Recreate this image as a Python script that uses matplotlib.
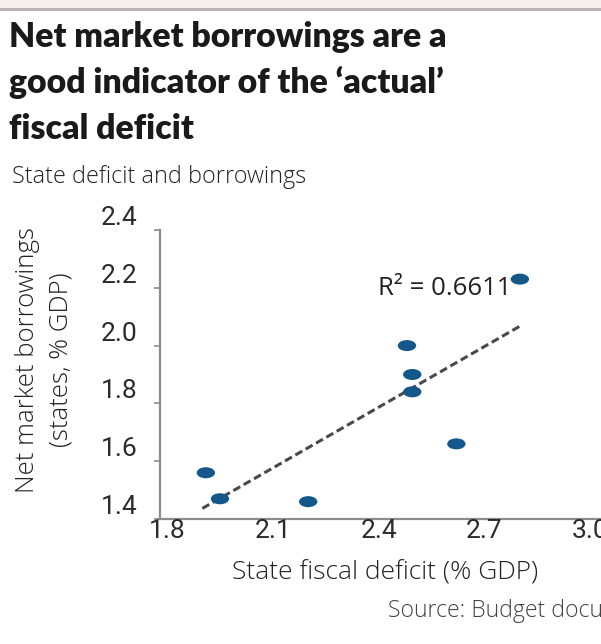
import numpy as np
import matplotlib
matplotlib.use("Agg")
import matplotlib.pyplot as plt
from matplotlib.path import Path
from matplotlib.patches import Rectangle
from matplotlib import transforms

# data
deficit = [1.93, 1.97, 2.22, 2.50, 2.515, 2.515, 2.64, 2.82]
borrowings = [1.56, 1.47, 1.46, 2.00, 1.90, 1.84, 1.66, 2.23]
x_ticks = [1.8, 2.1, 2.4, 2.7, 3.0]
y_ticks = [1.4, 1.6, 1.8, 2.0, 2.2, 2.4]
title_lines = ["Net market borrowings are a",
               "good indicator of the \u2018actual\u2019",
               "fiscal deficit"]

W, H = 601, 644
fig = plt.figure(figsize=(W / 100, H / 100), dpi=100)
fig.patch.set_facecolor("white")


def fx(px):
    return px / W


def fy(py):
    return 1 - py / H


# pink strip and rule at the top
fig.patches.append(Rectangle((0, fy(8)), 1, 8 / H, transform=fig.transFigure,
                             facecolor="#f7eef0", edgecolor="none"))
fig.patches.append(Rectangle((0, fy(11)), 1, 3 / H, transform=fig.transFigure,
                             facecolor="#b9b1b3", edgecolor="none"))

title_font = ["Lato", "DejaVu Sans"]
body_font = ["Open Sans", "DejaVu Sans"]
tick_font = ["Roboto", "DejaVu Sans"]

for i, line in enumerate(title_lines):
    fig.text(fx(9), fy(47 + 46 * i), line, family=title_font, weight="heavy",
             fontsize=24.3, color="#1a1a1a", va="baseline", ha="left")

fig.text(fx(12), fy(183), "State deficit and borrowings", family=body_font,
         weight="light", fontsize=16.8, color="#222222", va="baseline", ha="left")

x0, x1 = 1.8, 3.15
px_per_unit = 352.8
ax = fig.add_axes([fx(160), fy(519), (x1 - x0) * px_per_unit / W, 289 / H])
ax.set_xlim(x0, x1)
ax.set_ylim(1.4, 2.4)
for s in ["top", "right"]:
    ax.spines[s].set_visible(False)
for s in ["left", "bottom"]:
    ax.spines[s].set_color("#8c8c8c")
    ax.spines[s].set_linewidth(1.6)
ax.set_xticks(x_ticks)
ax.set_yticks(y_ticks)
ax.tick_params(axis="y", length=4, width=1.2, color="#8c8c8c", labelleft=False)
ax.tick_params(axis="x", length=0, labelbottom=False)

# tick labels, drawn slightly off their ticks as in the reference
ytrans = transforms.offset_copy(ax.get_yaxis_transform(), fig=fig, x=-22, y=12, units="dots")
for v in y_ticks:
    ax.text(0, v, f"{v:.1f}", transform=ytrans, ha="right", va="center",
            family=tick_font, fontsize=19, color="#2b2b2b", clip_on=False)
xtrans = transforms.offset_copy(ax.get_xaxis_transform(), fig=fig, x=7, y=0, units="dots")
for v in x_ticks:
    ax.text(v, 0, f"{v:.1f}", transform=xtrans, ha="center", va="top",
            family=tick_font, fontsize=19, color="#2b2b2b", clip_on=False)

# trend line
xs = np.array(deficit)
ys = np.array(borrowings)
slope, icpt = np.polyfit(xs, ys, 1)
lx = np.array([xs.min() - 0.01, xs.max()])
ax.plot(lx, slope * lx + icpt, color="#4a4a4a", lw=2.2, dashes=(2.6, 1.3),
        zorder=2)

# elliptical markers
circ = Path.unit_circle()
ell = Path(circ.vertices * np.array([1.0, 0.6]), circ.codes)
ax.scatter(xs, ys, marker=ell, s=175, color="#14578a", edgecolors="none",
           zorder=3, clip_on=False)

fig.text(fx(511), fy(295), "R\u00b2 = 0.6611", family=body_font, fontsize=18.5,
         color="#222222", ha="right", va="baseline")

fig.text(fx(44), fy(360), "Net market borrowings\n(states, % GDP)",
         family=body_font, weight="light", fontsize=18.5, color="#222222",
         rotation=90, ha="center", va="center", multialignment="center",
         linespacing=1.45)

fig.text(fx(385), fy(580), "State fiscal deficit (% GDP)", family=body_font,
         weight="light", fontsize=19, color="#222222", ha="center",
         va="baseline")
fig.text(fx(388), fy(617), "Source: Budget documents", family=body_font,
         weight="light", fontsize=16.6, color="#444444", ha="left", va="baseline")

fig.savefig("out.png", dpi=100, facecolor="white")
